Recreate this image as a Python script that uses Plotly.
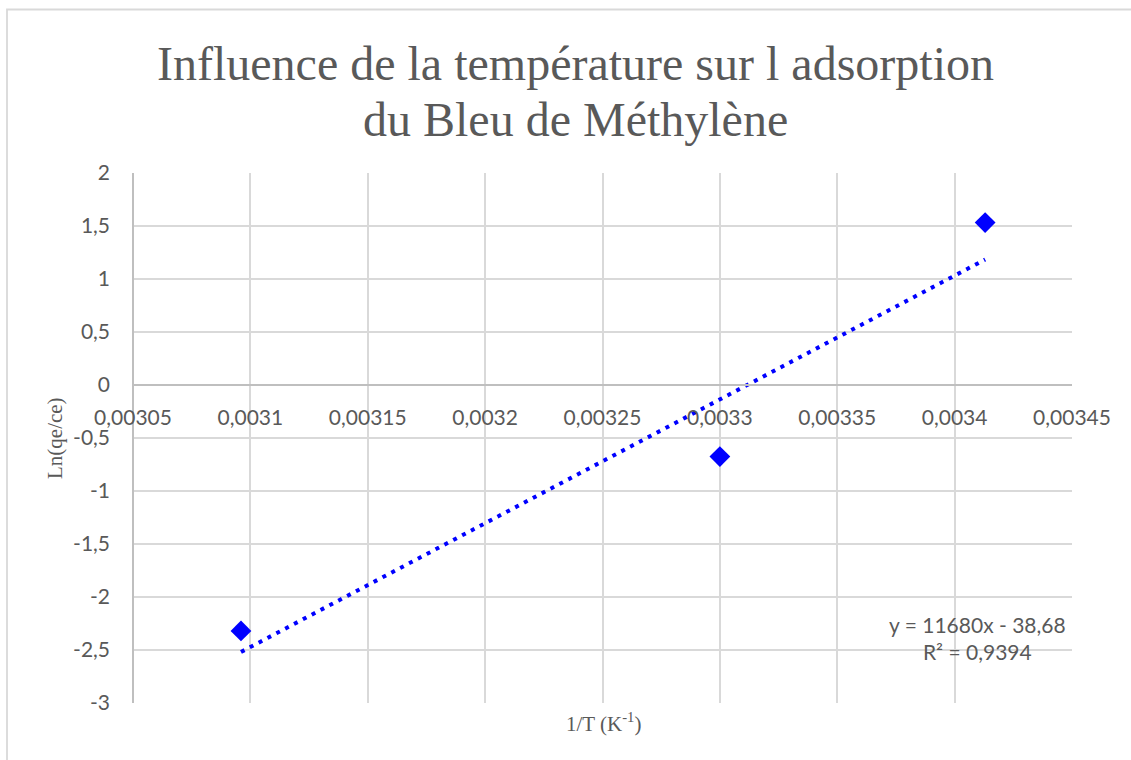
import plotly.graph_objects as go

# Inverse temperature (1/K) and ln(qe/ce) measurements
inv_T = [0.003096, 0.0033, 0.003413]
ln_qe_ce = [-2.32, -0.675, 1.532]

# Linear trendline coefficients shown in the equation label
slope = 11680
intercept = -38.68
r_squared = "0,9394"

x_ticks = [0.00305, 0.0031, 0.00315, 0.0032, 0.00325, 0.0033, 0.00335, 0.0034, 0.00345]
x_tick_labels = ["0,00305", "0,0031", "0,00315", "0,0032", "0,00325", "0,0033", "0,00335", "0,0034", "0,00345"]
y_ticks = [-3, -2.5, -2, -1.5, -1, -0.5, 0, 0.5, 1, 1.5, 2]
y_tick_labels = ["-3", "-2,5", "-2", "-1,5", "-1", "-0,5", "0", "0,5", "1", "1,5", "2"]
title_lines = ["Influence de la température sur l adsorption", "du Bleu de Méthylène"]

W, H = 1131, 760
ML, MR, MT, MB = 133, 59, 173, 57
PW, PH = W - ML - MR, H - MT - MB


def px_x(p):
    return (p - ML) / PW


def px_y(p):
    return (H - MB - p) / PH


TEXT = "#595959"
GRID = "#d9d9d9"
AXIS = "#bfbfbf"
BLUE = "#0000ff"
TICK_FONT = dict(family="Lato", size=21, color=TEXT)
SERIF = "Liberation Serif, Times New Roman, serif"

trend_x = [min(inv_T), max(inv_T)]
trend_y = [slope * x + intercept for x in trend_x]

fig = go.Figure()
fig.add_trace(go.Scatter(
    x=trend_x, y=trend_y, mode="lines",
    line=dict(color=BLUE, width=4, dash="4px,6px"),
    hoverinfo="skip", showlegend=False,
))
fig.add_trace(go.Scatter(
    x=inv_T, y=ln_qe_ce, mode="markers",
    marker=dict(symbol="diamond", size=16, color=BLUE),
    showlegend=False,
))

# Two-line chart title, one annotation per line for tighter leading
title_annotations = [
    dict(
        text=line, xref="paper", yref="paper", x=px_x(575), y=px_y(yc),
        xanchor="center", yanchor="middle", showarrow=False,
        font=dict(family=SERIF, size=48, color=TEXT),
    )
    for line, yc in zip(title_lines, [64, 120])
]

fig.update_layout(
    width=W, height=H,
    margin=dict(l=ML, r=MR, t=MT, b=MB, pad=0),
    paper_bgcolor="white", plot_bgcolor="white",
    showlegend=False,
    annotations=title_annotations + [
        dict(
            text=f"y = {slope}x - {str(abs(intercept)).replace('.', ',')}<br>R² = {r_squared}",
            xref="paper", yref="paper", x=px_x(977), y=px_y(637.5),
            xanchor="center", yanchor="middle", showarrow=False,
            font=TICK_FONT, align="center",
        ),
        dict(
            text="1/T (K<sup>-1</sup>)",
            xref="paper", yref="paper", x=px_x(603), y=px_y(722),
            xanchor="center", yanchor="middle", showarrow=False,
            font=dict(family=SERIF, size=21, color=TEXT),
        ),
        dict(
            text="Ln(qe/ce)", textangle=-90,
            xref="paper", yref="paper", x=px_x(55), y=px_y(438),
            xanchor="center", yanchor="middle", showarrow=False,
            font=dict(family=SERIF, size=21, color=TEXT),
        ),
    ],
    xaxis=dict(
        range=[0.00305, 0.00345],
        tickvals=x_ticks, ticktext=x_tick_labels,
        tickfont=TICK_FONT, ticks="", ticklabelstandoff=14,
        showgrid=True, gridcolor=GRID, gridwidth=1.5,
        showline=True, linecolor=AXIS, linewidth=1.5,
        zeroline=False,
        anchor="free", position=3 / 5,
    ),
    yaxis=dict(
        range=[-3, 2],
        tickvals=y_ticks, ticktext=y_tick_labels,
        tickfont=TICK_FONT, ticks="", ticklabelstandoff=18,
        showgrid=True, gridcolor=GRID, gridwidth=1.5,
        showline=True, linecolor=AXIS, linewidth=1.5,
        zeroline=False,
        anchor="free", position=0,
    ),
    shapes=[
        dict(type="path", xref="paper", yref="paper",
             path=f"M {px_x(7)} {px_y(H + 5)} L {px_x(7)} {px_y(9.5)} L {px_x(W + 5)} {px_y(9.5)}",
             line=dict(color=GRID, width=1.8)),
    ],
)

fig.write_html("out.html")
